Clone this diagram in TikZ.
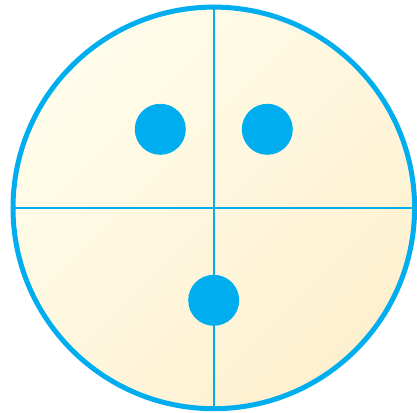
\documentclass[tikz,border=0pt]{standalone}
\usepackage{tikz}
\definecolor{cyanline}{HTML}{00AEEF}
\definecolor{fillA}{HTML}{FFFDEB}
\definecolor{fillB}{HTML}{FDF0CF}
\tikzset{
  face/.style={circle, draw=cyanline, line width=5pt, inner sep=0pt,
    minimum size=401.6pt, top color=fillA, bottom color=fillB, shading angle=45},
  dot/.style={circle, fill=cyanline, inner sep=0pt, minimum size=51pt},
  cross/.style={draw=cyanline, line width=1.6pt}
}
\begin{document}
\begin{tikzpicture}[x=1pt,y=1pt]
\useasboundingbox (0,0) rectangle (417,412);
\node[face] (c) at (213.8,204.1) {};
\draw[cross] (c.north) -- (c.south);
\draw[cross] (c.west) -- (c.east);
\node[dot] (d1) at (160.3,282.7) {};
\node[dot] (d2) at (267.3,282.7) {};
\node[dot] (d3) at (213.7,111.7) {};
\end{tikzpicture}
\end{document}
